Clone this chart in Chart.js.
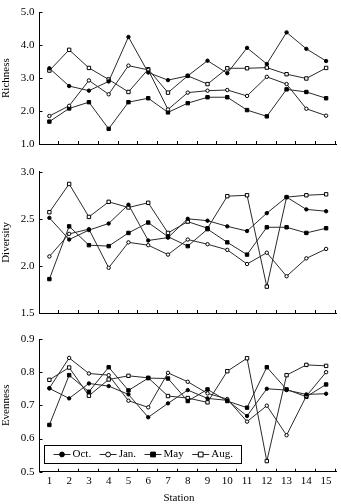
<!DOCTYPE html>
<html>
<head>
<meta charset="utf-8">
<script src="https://cdn.jsdelivr.net/npm/chart.js@4.4.1/dist/chart.umd.min.js"></script>
<style>
  html, body { margin: 0; padding: 0; background: #fff; }
  body { width: 341px; height: 504px; position: relative; overflow: hidden; }
  .panel { position: absolute; left: 0; width: 341px; }
</style>
</head>
<body>
<div class="panel" id="p1" style="top:0;height:160px"><canvas id="c1"></canvas></div>
<div class="panel" id="p2" style="top:160px;height:165px"><canvas id="c2"></canvas></div>
<div class="panel" id="p3" style="top:325px;height:179px"><canvas id="c3"></canvas></div>
<script>
// ---- data ----
const stations = ['1','2','3','4','5','6','7','8','9','10','11','12','13','14','15'];
const seriesNames = ['Oct.', 'Jan.', 'May', 'Aug.'];

const richnessOct = [3.30, 2.76, 2.62, 2.90, 4.25, 3.17, 2.94, 3.07, 3.53, 3.15, 3.92, 3.43, 4.39, 3.89, 3.52];
const richnessJan = [1.85, 2.16, 2.93, 2.51, 3.38, 3.25, 2.05, 2.56, 2.62, 2.64, 2.46, 3.04, 2.82, 2.07, 1.86];
const richnessMay = [1.68, 2.08, 2.27, 1.46, 2.27, 2.39, 1.96, 2.24, 2.42, 2.42, 2.03, 1.84, 2.66, 2.58, 2.39];
const richnessAug = [3.23, 3.86, 3.31, 2.96, 2.58, 3.27, 2.56, 3.07, 2.82, 3.30, 3.30, 3.32, 3.12, 2.99, 3.31];

const diversityOct = [2.51, 2.28, 2.38, 2.45, 2.65, 2.27, 2.30, 2.50, 2.48, 2.42, 2.37, 2.56, 2.73, 2.60, 2.58];
const diversityJan = [2.10, 2.34, 2.39, 1.98, 2.25, 2.22, 2.12, 2.28, 2.23, 2.17, 2.02, 2.14, 1.89, 2.08, 2.18];
const diversityMay = [1.86, 2.42, 2.22, 2.21, 2.35, 2.46, 2.31, 2.21, 2.39, 2.25, 2.12, 2.41, 2.41, 2.35, 2.40];
const diversityAug = [2.57, 2.87, 2.52, 2.68, 2.62, 2.67, 2.35, 2.47, 2.40, 2.74, 2.75, 1.78, 2.73, 2.75, 2.76];

const evennessOct = [0.751, 0.721, 0.766, 0.758, 0.733, 0.664, 0.706, 0.746, 0.721, 0.715, 0.668, 0.750, 0.746, 0.733, 0.735];
const evennessJan = [0.752, 0.843, 0.796, 0.791, 0.714, 0.694, 0.798, 0.771, 0.736, 0.719, 0.651, 0.699, 0.610, 0.728, 0.800];
const evennessMay = [0.641, 0.791, 0.741, 0.815, 0.745, 0.782, 0.781, 0.713, 0.748, 0.713, 0.693, 0.815, 0.748, 0.726, 0.763];
const evennessAug = [0.777, 0.814, 0.729, 0.778, 0.789, 0.783, 0.728, 0.722, 0.709, 0.803, 0.842, 0.532, 0.791, 0.822, 0.819];

const richnessTicks = [1.0, 2.0, 3.0, 4.0, 5.0];
const diversityTicks = [1.5, 2.0, 2.5, 3.0];
const evennessTicks = [0.5, 0.6, 0.7, 0.8, 0.9];

// ---- styles ----
const FONT = "'Liberation Serif', 'Times New Roman', serif";
const LINE = '#2a2a2a';
const markerStyles = [
  { pointStyle: 'circle', fill: '#000', r: 1.7 },
  { pointStyle: 'circle', fill: '#fff', r: 1.7 },
  { pointStyle: 'rect',   fill: '#000', r: 2.4 },
  { pointStyle: 'rect',   fill: '#fff', r: 2.4 }
];

function makeDatasets(arrays) {
  return arrays.map((d, i) => ({
    label: seriesNames[i],
    data: d,
    borderColor: LINE,
    borderWidth: 1,
    pointStyle: markerStyles[i].pointStyle,
    pointRadius: markerStyles[i].r,
    pointBackgroundColor: markerStyles[i].fill,
    pointBorderColor: '#000',
    pointBorderWidth: 1,
    fill: false,
    tension: 0
  }));
}

// inward tick marks drawn on the library's scales
const inTicks = {
  id: 'inTicks',
  afterDraw(chart) {
    const { ctx, chartArea: a, scales: { x, y } } = chart;
    ctx.save();
    ctx.strokeStyle = '#000';
    ctx.lineWidth = 1;
    ctx.beginPath();
    y.ticks.forEach(t => {
      const py = Math.round(y.getPixelForValue(t.value)) + 0.5;
      ctx.moveTo(a.left, py); ctx.lineTo(a.left + 3, py);
    });
    const half = (x.getPixelForValue(1) - x.getPixelForValue(0)) / 2;
    for (let i = 0; i < stations.length; i++) {
      const px = Math.round(x.getPixelForValue(i) + half) - 0.5;
      ctx.moveTo(px, a.bottom); ctx.lineTo(px, a.bottom - 3);
    }
    ctx.stroke();
    ctx.restore();
  }
};

// legend with line + marker, boxed, inside the bottom panel
const boxLegend = {
  id: 'boxLegend',
  afterDraw(chart, args, opts) {
    if (!opts || !opts.show) return;
    const { ctx, chartArea: a } = chart;
    const left = a.left + 4, right = a.left + 201, top = a.bottom - 27, bottom = a.bottom - 9;
    const cy = (top + bottom) / 2 + 0.5;
    ctx.save();
    ctx.fillStyle = '#fff';
    ctx.fillRect(left, top, right - left, bottom - top);
    ctx.strokeStyle = '#000'; ctx.lineWidth = 1;
    ctx.strokeRect(Math.round(left) + 0.5, Math.round(top) + 0.5, Math.round(right - left), Math.round(bottom - top));
    ctx.font = '11px ' + FONT;
    ctx.textBaseline = 'middle';
    ctx.textAlign = 'left';
    let x = left + 10;
    chart.data.datasets.forEach((ds, i) => {
      ctx.strokeStyle = LINE;
      ctx.beginPath(); ctx.moveTo(x, Math.round(cy) + 0.5); ctx.lineTo(x + 17, Math.round(cy) + 0.5); ctx.stroke();
      const mx = x + 8.5, my = Math.round(cy) + 0.5;
      ctx.fillStyle = markerStyles[i].fill; ctx.strokeStyle = '#000';
      ctx.beginPath();
      if (markerStyles[i].pointStyle === 'circle') ctx.arc(mx, my, 2.4, 0, Math.PI * 2);
      else ctx.rect(mx - 2.4, my - 2.4, 4.8, 4.8);
      ctx.fill(); ctx.stroke();
      ctx.fillStyle = '#000';
      ctx.fillText(ds.label, x + 19, cy);
      x = x + 19 + ctx.measureText(ds.label).width + 8.5;
    });
    ctx.restore();
  }
};

// x-axis title for bottom panel
const stationTitle = {
  id: 'stationTitle',
  afterDraw(chart, args, opts) {
    if (!opts || !opts.text) return;
    const { ctx } = chart;
    ctx.save();
    ctx.font = '11px ' + FONT;
    ctx.fillStyle = '#000';
    ctx.textAlign = 'center';
    ctx.textBaseline = 'middle';
    ctx.fillText(opts.text, 179, chart.height - 6);
    ctx.restore();
  }
};

function makeChart(id, arrays, yTitle, yTicks, padTop, xHeight, bottomPanel) {
  const yMin = yTicks[0], yMax = yTicks[yTicks.length - 1];
  const step = yTicks[1] - yTicks[0];
  return new Chart(document.getElementById(id), {
    type: 'line',
    data: { labels: stations, datasets: makeDatasets(arrays) },
    plugins: [inTicks, boxLegend, stationTitle],
    options: {
      responsive: true,
      maintainAspectRatio: false,
      animation: false,
      events: [],
      layout: { padding: { top: padTop, right: 3.5, left: 0, bottom: 0 } },
      plugins: {
        legend: { display: false },
        tooltip: { enabled: false },
        boxLegend: { show: bottomPanel },
        stationTitle: { text: bottomPanel ? 'Station' : '' }
      },
      scales: {
        x: {
          type: 'category',
          offset: true,
          grid: { display: false, drawTicks: false, offset: true },
          border: { display: true, color: '#000', width: 1 },
          ticks: {
            display: bottomPanel,
            color: '#000',
            font: { family: FONT, size: 11 },
            padding: 3,
            maxRotation: 0,
            autoSkip: false
          },
          afterFit(scale) { scale.height = xHeight; }
        },
        y: {
          min: yMin, max: yMax,
          grid: { display: false, drawTicks: false },
          border: { display: true, color: '#000', width: 1 },
          ticks: {
            stepSize: step,
            color: '#000',
            font: { family: FONT, size: 11 },
            padding: 5,
            callback: v => Number(v).toFixed(1)
          },
          afterBuildTicks(scale) { scale.ticks = yTicks.map(v => ({ value: v })); },
          title: {
            display: true,
            text: yTitle,
            color: '#000',
            font: { family: FONT, size: 11 },
            padding: { top: 0, bottom: 0 }
          },
          afterFit(scale) { scale.width = 39.5; }
        }
      }
    }
  });
}

makeChart('c1', [richnessOct, richnessJan, richnessMay, richnessAug], 'Richness', richnessTicks, 12.3, 16, false);
makeChart('c2', [diversityOct, diversityJan, diversityMay, diversityAug], 'Diversity', diversityTicks, 11.7, 12, false);
makeChart('c3', [evennessOct, evennessJan, evennessMay, evennessAug], 'Evenness', evennessTicks, 14, 32.3, true);
</script>
</body>
</html>
